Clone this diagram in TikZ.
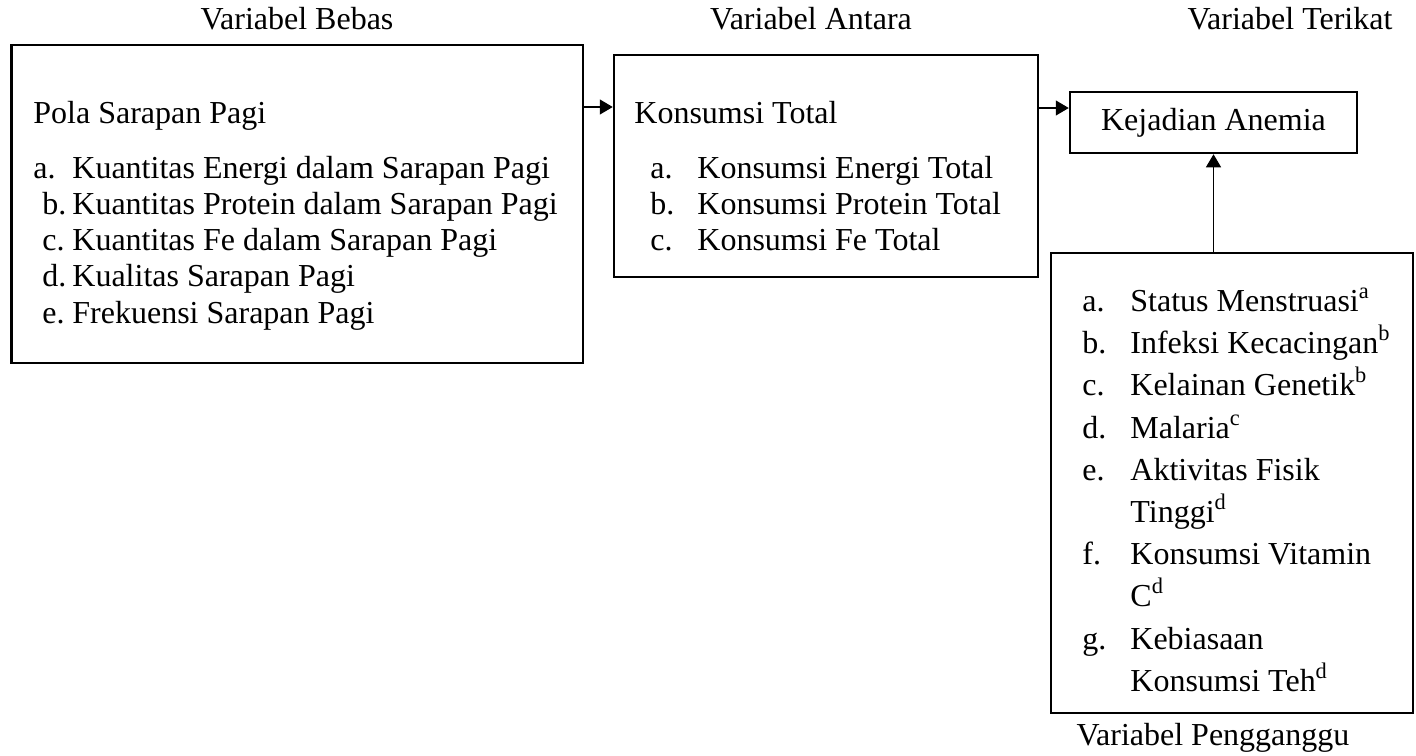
\documentclass[tikz,border=0pt]{standalone}
\usepackage{fontspec}
\setmainfont{Liberation Serif}
\usetikzlibrary{arrows.meta}
\begin{document}
\begin{tikzpicture}[x=0.5pt,y=-0.5pt,
  every node/.style={font=\fontsize{16}{19}\selectfont},
  box/.style={draw, line width=1.25pt, inner sep=0pt},
  txt/.style={inner sep=0pt, anchor=base west},
  head/.style={inner sep=0pt, anchor=base},
  arr/.style={line width=0.6pt, -{Triangle[length=6.5pt,width=7.5pt]}}]
\fill[white] (0,0) rectangle (1416,755);
\useasboundingbox (0,0) rectangle (1416,755);
% headers
\node[head] (h1) at (297,29) {Variabel Bebas};
\node[head] (h2) at (811,29) {Variabel Antara};
\node[head] (h3) at (1290,29) {Variabel Terikat};
\node[head] (h4) at (1213,745) {Variabel Pengganggu};
% boxes
\node[box, minimum width=285.75pt, minimum height=159pt] (b1) at (297.25,204) {};
\node[box, minimum width=212pt, minimum height=111pt] (b2) at (826,166) {};
\node[box, minimum width=143.5pt, minimum height=30.5pt] (b3) at (1213.5,122.5) {Kejadian Anemia};
\node[box, minimum width=181pt, minimum height=230pt] (b4) at (1232,483) {};
% box 1 text
\node[txt] (p0) at (33,123) {Pola Sarapan Pagi};
\node[txt] (pa) at (33,178) {a.};
\node[txt] (pat) at (72,178) {Kuantitas Energi dalam Sarapan Pagi};
\node[txt] (pb) at (42,214) {b.};
\node[txt] (pbt) at (72,214) {Kuantitas Protein dalam Sarapan Pagi};
\node[txt] (pc) at (42,250) {c.};
\node[txt] (pct) at (72,250) {Kuantitas Fe dalam Sarapan Pagi};
\node[txt] (pd) at (42,286) {d.};
\node[txt] (pdt) at (72,286) {Kualitas Sarapan Pagi};
\node[txt] (pe) at (42,323) {e.};
\node[txt] (pet) at (72,323) {Frekuensi Sarapan Pagi};
% box 2 text
\node[txt] (k0) at (634,123) {Konsumsi Total};
\node[txt] (ka) at (650,178) {a.};
\node[txt] (kat) at (697,178) {Konsumsi Energi Total};
\node[txt] (kb) at (650,214) {b.};
\node[txt] (kbt) at (697,214) {Konsumsi Protein Total};
\node[txt] (kc) at (650,250) {c.};
\node[txt] (kct) at (697,250) {Konsumsi Fe Total};
% box 4 text
\node[txt] (ga) at (1082,311) {a.};
\node[txt] (gat) at (1130,311) {Status Menstruasi\textsuperscript{a}};
\node[txt] (gb) at (1082,353) {b.};
\node[txt] (gbt) at (1130,353) {Infeksi Kecacingan\textsuperscript{b}};
\node[txt] (gc) at (1082,395) {c.};
\node[txt] (gct) at (1130,395) {Kelainan Genetik\textsuperscript{b}};
\node[txt] (gd) at (1082,438) {d.};
\node[txt] (gdt) at (1130,438) {Malaria\textsuperscript{c}};
\node[txt] (ge) at (1082,480) {e.};
\node[txt] (get) at (1130,480) {Aktivitas Fisik};
\node[txt] (ge2) at (1130,522) {Tinggi\textsuperscript{d}};
\node[txt] (gf) at (1082,564) {f.};
\node[txt] (gft) at (1130,564) {Konsumsi Vitamin};
\node[txt] (gf2) at (1130,606) {C\textsuperscript{d}};
\node[txt] (gg) at (1082,649) {g.};
\node[txt] (ggt) at (1130,649) {Kebiasaan};
\node[txt] (gg2) at (1130,691) {Konsumsi Teh\textsuperscript{d}};
% arrows
\coordinate (r1) at (0,107);
\coordinate (r2) at (0,108);
\draw[arr] (b1.east |- r1) -- (b2.west |- r1);
\draw[arr] (b2.east |- r2) -- (b3.west |- r2);
\draw[arr] (b3.south |- b4.north) -- (b3.south);
\end{tikzpicture}
\end{document}
